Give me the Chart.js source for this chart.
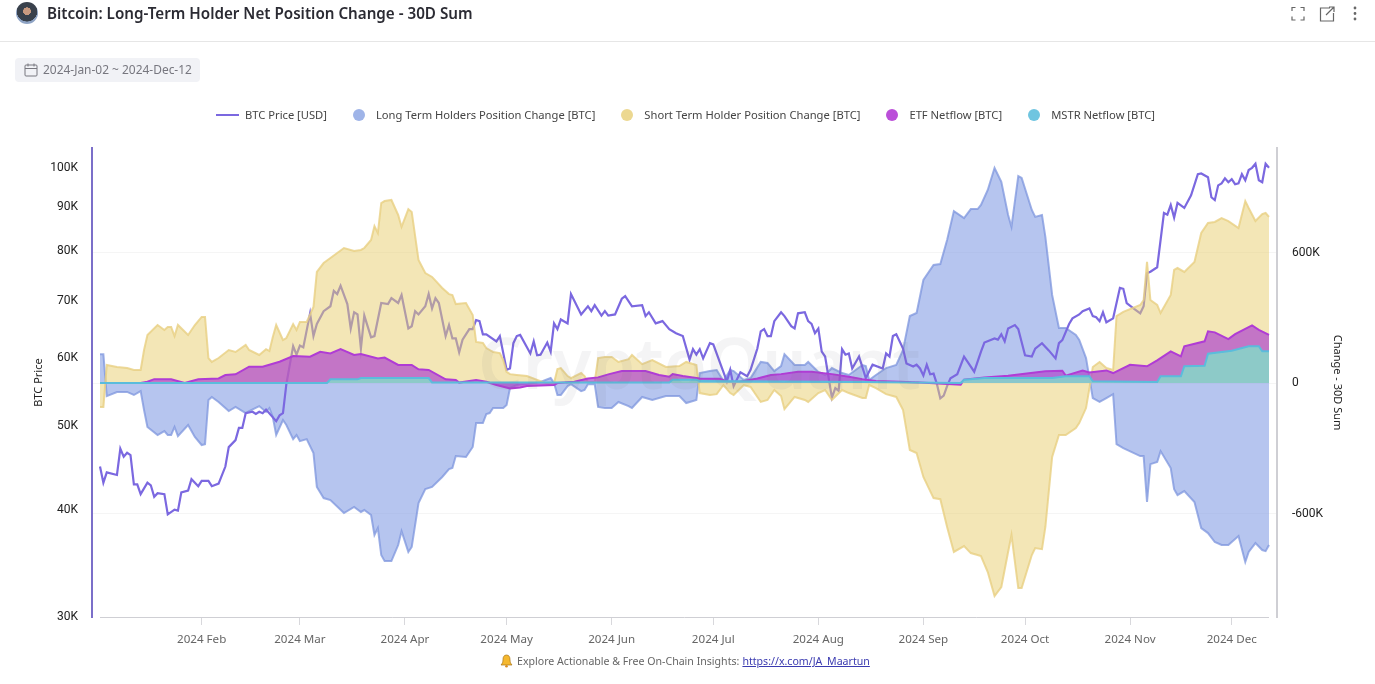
<!DOCTYPE html>
<html lang="en">
<head>
<meta charset="UTF-8">
<title>Bitcoin: Long-Term Holder Net Position Change - 30D Sum</title>
<script src="https://cdn.jsdelivr.net/npm/chart.js@4"></script>
<style>
    html, body { margin: 0; padding: 0; background: #fff; overflow: hidden; }
    body { width: 1375px; height: 684px; position: relative; font-family: "Noto Sans", Arial, sans-serif; color: #333; }
    canvas { position: absolute; left: 0; top: 0; }
    .avatar { position: absolute; left: 16px; top: 2px; width: 22px; height: 22px; border-radius: 50%; background: radial-gradient(circle at 50% 42%, #c99a80 0 22%, #39414c 24% 60%, #8ea3c4 62%); }
    h1 { position: absolute; left: 47px; top: 3px; margin: 0; font-size: 15.2px; line-height: 21px; font-weight: 600; color: #2b2b33; white-space: nowrap; }
    .rule { position: absolute; left: 0; right: 0; top: 41px; height: 1px; background: #e6e6e6; }
    .icons { position: absolute; left: 1290px; top: 5px; }
    .range { position: absolute; left: 15px; top: 58px; width: 185px; height: 24px; border-radius: 4px; background: #f1f2f6; color: #77777f; font-size: 11.95px; line-height: 24px; }
    .range svg { position: absolute; left: 9px; top: 5px; }
    .range span { position: absolute; left: 28px; white-space: nowrap; }
    .legend { position: absolute; top: 106px; left: 216px; height: 17px; display: flex; align-items: center; font-size: 11.2px; color: #444; white-space: nowrap; }
    .legend .item { display: flex; align-items: center; margin-right: 26px; }
    .legend .dash { width: 23px; height: 2px; margin-right: 6px; }
    .legend .dot { width: 12px; height: 12px; border-radius: 50%; margin-right: 11px; }
    .mark { position: absolute; left: 478px; top: 322px; font-size: 70px; line-height: 80px; font-weight: 600; color: rgba(110, 110, 130, .08); white-space: nowrap; pointer-events: none; }
    .foot { position: absolute; left: 500px; top: 653px; font-size: 10.6px; line-height: 16px; color: #666; white-space: nowrap; display: flex; align-items: center; }
    .foot svg { margin-right: 4px; }
    .foot a { color: #3a3ab0; text-decoration: underline; margin-left: 3px; }
</style>
</head>
<body>
<canvas id="chart" width="1375" height="684"></canvas>
<div class="avatar"></div>
<h1>Bitcoin: Long-Term Holder Net Position Change - 30D Sum</h1>
<div class="rule"></div>
<svg class="icons" width="72" height="18" fill="none" stroke="#666" stroke-width="1.2">
    <path d="M2 6V2.5h3.5M10.5 2.5H14V6M14 11.5V15h-3.5M5.5 15H2v-3.5"/>
    <path d="M40 3h-9.5v13h13V8M36 10l8-8M39 2h5v5"/>
    <circle cx="65" cy="3" r=".8" fill="#666"/><circle cx="65" cy="8.5" r=".8" fill="#666"/><circle cx="65" cy="14" r=".8" fill="#666"/>
</svg>
<div class="range">
    <svg width="14" height="14" fill="none" stroke="#77777f" stroke-width="1"><rect x="1" y="2" width="12" height="11" rx="1"/><path d="M1 5.5h12M4 .5v3M10 .5v3"/></svg>
    <span>2024-Jan-02 ~ 2024-Dec-12</span>
</div>
<div class="legend" id="legend"></div>
<div class="mark">CryptoQuant</div>
<div class="foot">
    <svg width="13" height="14" viewBox="0 0 13 14"><path d="M6.5 1C4 1 3 3 3 5.5 3 8 2.4 9.5 1 11h11c-1.4-1.5-2-3-2-5.500C10 3 9 1 6.500 1z" fill="#f5b82e" stroke="#a8741a" stroke-width=".7"/><circle cx="6.500" cy="12.300" r="1.300" fill="#d98e1f"/></svg>
    Explore Actionable &amp; Free On-Chain Insights: <a href="https://x.com/JA_Maartun">https://x.com/JA_Maartun</a>
</div>

<script>
    // x values are days counted from 2024-Jan-02
    const seriesNames = ["BTC Price [USD]", "Long Term Holders Position Change [BTC]", "Short Term Holder Position Change [BTC]", "ETF Netflow [BTC]", "MSTR Netflow [BTC]"];

    const monthDays = [30, 59, 90, 120, 151, 181, 212, 243, 273, 304, 334];
    const monthLabels = ["2024 Feb", "2024 Mar", "2024 Apr", "2024 May", "2024 Jun", "2024 Jul", "2024 Aug", "2024 Sep", "2024 Oct", "2024 Nov", "2024 Dec"];
    const priceTicks = [30, 40, 50, 60, 70, 80, 90, 100];
    const changeTicks = [-600, 0, 600];

    // price in thousand USD
    const priceDays = [0,1,2,5,6,7,8,9,10,11,12,14,15,16,17,19,20,22,23,24,26,27,29,30,32,33,35,37,38,40,41,42,43,45,46,47,48,49,52,53,54,55,57,58,59,60,62,63,64,66,68,69,70,71,73,74,75,76,77,78,80,81,83,85,86,88,89,91,92,93,94,96,97,98,99,100,102,103,104,105,106,107,108,109,110,111,112,113,114,117,118,120,121,122,123,124,127,128,129,130,132,133,134,135,136,138,139,142,144,145,146,148,149,150,152,154,155,157,160,161,162,164,166,168,170,172,174,175,176,177,178,180,181,185,186,187,189,191,192,194,195,196,197,198,199,201,202,204,205,206,208,209,210,211,212,213,214,216,217,218,219,220,221,222,224,226,228,231,232,233,234,235,237,238,240,241,242,243,244,245,246,247,248,249,250,251,253,255,256,258,260,261,264,265,266,267,268,270,271,273,275,276,278,280,282,283,284,286,287,289,290,292,293,294,295,296,297,299,301,302,303,305,307,308,309,310,312,314,315,316,317,318,320,322,324,325,327,328,329,330,331,332,333,334,335,336,337,338,339,340,341,342,343,344,345];
    const priceValues = [44.9,43.0,44.2,43.9,47.1,46.1,46.6,46.3,42.8,42.8,41.7,43.0,42.7,41.4,41.8,41.7,39.5,40.0,39.9,41.9,42.1,43.4,42.6,43.2,43.2,42.6,42.9,44.9,47.3,48.2,49.8,49.8,51.8,52.0,51.7,52.0,51.8,52.3,50.7,51.5,51.8,56.0,62.0,60.6,62.1,61.8,67.7,63.7,65.8,68.1,69.0,71.9,71.3,72.9,69.4,65.0,67.9,67.5,61.6,67.3,63.5,63.7,69.6,69.4,70.5,69.6,71.1,65.0,65.4,68.1,67.5,69.0,71.3,68.6,70.5,69.6,63.7,65.6,63.3,63.3,61.0,63.1,64.0,64.9,64.9,66.5,66.3,64.0,64.0,62.8,63.7,58.2,58.4,62.5,63.7,63.9,60.8,62.8,60.5,60.6,62.6,61.1,65.9,64.9,66.6,65.9,71.3,67.5,69.0,68.1,69.2,67.3,68.1,67.3,67.5,70.4,70.9,69.0,69.2,67.2,67.9,65.9,66.3,64.9,64.2,63.7,59.8,61.5,60.6,61.5,60.0,62.5,62.3,56.4,58.2,55.7,57.8,57.2,58.2,61.6,64.5,64.9,63.7,63.7,66.3,67.9,67.2,65.4,65.0,67.7,67.9,66.3,65.8,64.2,65.0,61.1,60.3,54.0,55.4,55.0,61.5,60.6,60.8,58.4,60.3,56.9,59.0,58.4,60.8,60.3,63.7,64.0,61.6,59.2,58.7,59.0,58.4,57.3,59.0,57.5,57.6,56.0,53.9,54.3,55.7,56.9,57.5,60.3,59.5,57.9,61.1,62.6,63.3,63.1,64.0,62.8,65.0,65.6,64.9,60.5,60.3,61.6,62.5,61.3,60.0,62.5,63.0,65.8,66.8,67.5,68.1,68.6,67.2,67.0,66.3,67.9,66.1,66.8,72.5,72.3,69.6,68.6,67.7,69.0,75.4,75.7,76.6,88.6,88.2,90.5,87.5,91.0,89.8,92.9,98.3,98.5,97.5,92.4,91.7,95.4,95.9,97.2,96.2,97.0,95.7,95.9,98.3,96.7,99.4,100.0,101.1,96.7,96.2,101.1,100.0];

    // holder flows in thousand BTC, both read at the same days
    const holderDays = [0,1,2,5,8,10,12,13,14,17,19,20,21,22,23,26,28,30,31,32,33,35,38,40,43,44,47,49,50,51,52,54,55,57,58,59,61,63,64,66,68,72,75,77,78,80,81,82,83,84,86,88,89,91,92,94,96,98,101,103,104,105,108,110,111,113,114,115,116,118,119,120,121,123,126,130,133,134,135,136,138,139,142,143,144,146,147,149,151,153,156,157,160,163,167,171,173,176,177,180,182,184,186,187,190,192,195,197,199,201,202,205,208,209,212,214,216,219,221,225,226,227,229,232,235,237,239,241,243,246,248,250,252,255,257,259,260,262,264,266,268,269,271,272,275,276,278,279,281,283,285,288,289,291,292,293,295,297,299,300,302,307,308,309,310,312,313,316,317,318,320,323,325,327,329,331,333,336,338,339,341,343,344,345];
    const lthValues = [133,133,-60,-41,-41,-55,-37,-124,-202,-239,-221,-239,-239,-202,-244,-193,-248,-285,-281,-78,-64,-87,-129,-110,-138,-129,-106,-133,-115,-156,-239,-170,-193,-258,-239,-267,-258,-322,-478,-529,-538,-598,-570,-593,-584,-607,-699,-667,-791,-819,-819,-745,-681,-777,-754,-552,-488,-478,-432,-396,-391,-336,-340,-294,-184,-184,-143,-138,-115,-115,-115,-101,-23,-9,-5,5,23,0,-55,-55,-14,-5,-37,-32,-5,-5,-110,-115,-115,-87,-106,-115,-64,-78,-60,-60,-92,-78,46,55,60,9,60,55,14,23,97,92,55,78,133,83,83,97,51,37,69,46,37,83,78,14,37,69,83,152,308,322,474,543,547,658,791,759,800,800,819,888,989,925,773,718,952,943,796,764,773,672,405,253,253,221,198,115,23,-69,-87,-69,-51,-281,-299,-336,-336,-547,-373,-363,-313,-391,-488,-515,-497,-547,-667,-690,-731,-745,-745,-704,-823,-777,-736,-768,-773,-745];
    const sthValues = [-110,-110,83,74,69,60,60,152,221,267,244,258,258,216,267,221,267,304,304,115,97,115,152,143,175,152,129,156,147,212,267,198,207,271,244,281,281,350,511,552,575,621,607,612,621,658,722,690,828,837,842,773,718,800,787,566,506,488,437,409,405,363,368,313,189,184,161,152,143,138,106,51,41,37,32,9,-9,0,64,69,32,23,46,32,5,5,115,120,120,97,110,129,87,106,74,78,97,83,-46,-55,-51,-9,-46,-55,-9,-18,-87,-78,-32,-60,-120,-64,-78,-87,-46,-32,-78,-32,-46,-69,-69,-9,-23,-51,-64,-124,-308,-322,-432,-529,-534,-662,-777,-750,-782,-791,-796,-869,-980,-938,-777,-699,-943,-943,-791,-759,-764,-662,-340,-239,-239,-207,-184,-115,-23,74,97,69,60,308,327,359,382,557,382,359,322,405,520,529,511,557,690,736,741,759,745,713,837,805,745,777,782,764];

    // ETF netflow in thousand BTC
    const etfDays = [0,12,14,16,21,25,29,35,37,40,44,48,53,57,62,65,68,71,75,77,82,84,88,92,94,97,102,105,106,111,114,117,121,124,126,128,134,135,140,144,147,150,154,161,165,168,169,172,177,183,185,189,194,198,201,206,210,216,221,225,229,236,242,254,255,261,268,279,284,285,290,292,297,299,304,309,312,316,319,320,326,327,329,333,335,340,342,345];
    const etfValues = [0,0,6,18,17,0,17,21,37,40,75,75,98,124,121,144,136,156,129,133,113,117,83,83,63,60,17,14,2,14,6,-9,-25,-20,-14,-12,-9,0,6,21,26,40,55,55,37,29,41,32,21,20,6,6,21,37,41,52,52,41,29,18,9,6,3,-8,15,26,34,54,57,34,58,49,58,46,84,77,104,146,123,169,192,238,233,202,225,265,245,222];

    // MSTR netflow in thousand BTC
    const mstrDays = [0,67,68,76,77,97,98,168,169,176,177,225,254,255,261,281,285,292,293,312,313,319,320,326,327,334,339,342,343,345];
    const mstrValues = [0,0,17,17,23,23,2,2,15,15,9,5,0,15,23,23,31,31,8,5,31,31,77,80,135,149,169,169,146,146];

    function points(days, values) {
        return days.map((d, i) => ({ x: d, y: values[i] }));
    }

    function area(label, days, values, line, fillColor, order) {
        return {
            label: label,
            data: points(days, values),
            yAxisID: "yChange",
            borderColor: line,
            backgroundColor: fillColor,
            borderWidth: 2,
            pointRadius: 0,
            fill: "origin",
            order: order
        };
    }

    const legendColors = ["#7b68e0", "#9fb4e8", "#ecd891", "#bb4fd9", "#6fc5e0"];
    document.getElementById("legend").innerHTML = seriesNames.map((name, i) =>
        `<div class="item"><span class="${i === 0 ? "dash" : "dot"}" style="background:${legendColors[i]}"></span>${name}</div>`
    ).join("");

    // the axis line only runs under the data, not under the offset of the value axes
    const baseLine = {
        id: "baseLine",
        afterDraw(chart) {
            const { ctx, scales } = chart;
            ctx.save();
            ctx.strokeStyle = "#cfcfd4";
            ctx.lineWidth = 1;
            ctx.beginPath();
            ctx.moveTo(scales.x.getPixelForValue(0), scales.x.top + 0.5);
            ctx.lineTo(scales.x.getPixelForValue(345), scales.x.top + 0.5);
            ctx.stroke();
            ctx.restore();
        }
    };

    new Chart(document.getElementById("chart"), {
        type: "line",
        data: {
            datasets: [
                {
                    label: seriesNames[0],
                    data: points(priceDays, priceValues),
                    yAxisID: "yPrice",
                    borderColor: "#7b68e0",
                    borderWidth: 2.2,
                    pointRadius: 0,
                    fill: false,
                    order: 4
                },
                area(seriesNames[1], holderDays, lthValues, "rgba(125,150,222,.75)", "rgba(122,150,225,.55)", 5),
                area(seriesNames[2], holderDays, sthValues, "rgba(232,208,130,.8)", "rgba(232,205,110,.5)", 3),
                area(seriesNames[3], etfDays, etfValues, "#b03cd5", "rgba(175,70,205,.7)", 2),
                area(seriesNames[4], mstrDays, mstrValues, "#5bbcdc", "rgba(124,231,201,.75)", 1)
            ]
        },
        options: {
            responsive: false,
            animation: false,
            layout: { padding: { top: 148 } },
            plugins: { legend: { display: false }, tooltip: { enabled: false } },
            scales: {
                x: {
                    type: "linear",
                    min: -2.36,
                    max: 347.36,
                    border: { display: false },
                    grid: { drawOnChartArea: false, tickLength: 8, color: "#d8d8dc" },
                    afterBuildTicks(scale) { scale.ticks = monthDays.map(d => ({ value: d })); },
                    afterFit(scale) { scale.height = 67; },
                    ticks: {
                        autoSkip: false,
                        maxRotation: 0,
                        padding: 8,
                        color: "#666",
                        font: { family: "Noto Sans", size: 11.6 },
                        callback: v => monthLabels[monthDays.indexOf(v)]
                    }
                },
                yPrice: {
                    type: "logarithmic",
                    position: "left",
                    min: 30,
                    max: 105.45,
                    border: { color: "#7b6fc9", width: 2 },
                    grid: { drawOnChartArea: false, drawTicks: false },
                    afterBuildTicks(scale) { scale.ticks = priceTicks.map(v => ({ value: v })); },
                    afterFit(scale) { scale.width = 92; },
                    title: { display: true, text: "BTC Price", color: "#222", font: { family: "Noto Sans", size: 11 }, padding: { top: 32, bottom: 0 } },
                    ticks: { padding: 14, color: "#222", font: { family: "Roboto", size: 12 }, callback: v => v + "K" }
                },
                yChange: {
                    type: "linear",
                    position: "right",
                    min: -1076,
                    max: 1081,
                    border: { color: "#cfcfd4", width: 2 },
                    grid: { color: "#f5f5f5", drawTicks: false },
                    afterBuildTicks(scale) { scale.ticks = changeTicks.map(v => ({ value: v })); },
                    afterFit(scale) { scale.width = 98; },
                    title: { display: true, text: "Change - 30D Sum", color: "#222", font: { family: "Noto Sans", size: 11 }, padding: { top: 31, bottom: 0 } },
                    ticks: { padding: 15, color: "#222", font: { family: "Roboto", size: 12 }, callback: v => v === 0 ? "0" : v + "K" }
                }
            }
        },
        plugins: [baseLine]
    });
</script>
</body>
</html>
